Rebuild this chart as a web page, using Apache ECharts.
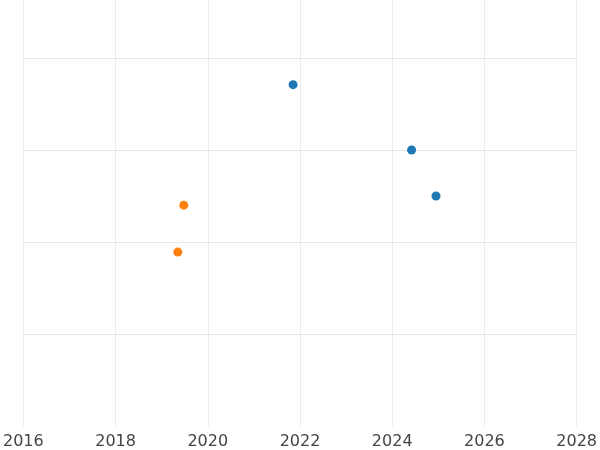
<!DOCTYPE html>
<html>
<head>
<meta charset="utf-8">
<script src="https://cdn.jsdelivr.net/npm/echarts@6/dist/echarts.min.js"></script>
<style>html,body{margin:0;padding:0;background:#fff}#chart{width:600px;height:450px}</style>
</head>
<body>
<div id="chart"></div>
<script>
const blueX = [2021.85, 2024.42, 2024.95];
const blueY = [3.71, 3.0, 2.5];
const orangeX = [2019.48, 2019.35];
const orangeY = [2.40, 1.89];

const zip = (xs, ys) => xs.map((x, i) => [x, ys[i]]);

const chart = echarts.init(document.getElementById('chart'));
chart.setOption({
    animation: false,
    grid: {left: -86, right: -69, top: 0, bottom: 24},
    xAxis: {
        type: 'value',
        min: 2016,
        max: 2028,
        interval: 2,
        axisLine: {show: false},
        axisTick: {show: false},
        axisLabel: {
            fontSize: 16,
            color: '#444',
            fontFamily: 'DejaVu Sans',
            formatter: v => String(Math.round(v))
        },
        splitLine: {show: true, lineStyle: {color: '#ebebeb'}}
    },
    yAxis: {
        type: 'value',
        min: 0,
        max: 4.63,
        interval: 1,
        axisLine: {show: false},
        axisTick: {show: false},
        axisLabel: {show: false},
        splitLine: {lineStyle: {color: ['rgba(0,0,0,0)', '#e6e6e6', '#e6e6e6', '#e6e6e6', '#e6e6e6']}}
    },
    series: [
        {type: 'scatter', data: zip(blueX, blueY), symbolSize: 9, itemStyle: {color: '#1f77b4', opacity: 1}},
        {type: 'scatter', data: zip(orangeX, orangeY), symbolSize: 9, itemStyle: {color: '#ff7f0e', opacity: 1}}
    ]
});
</script>
</body>
</html>
